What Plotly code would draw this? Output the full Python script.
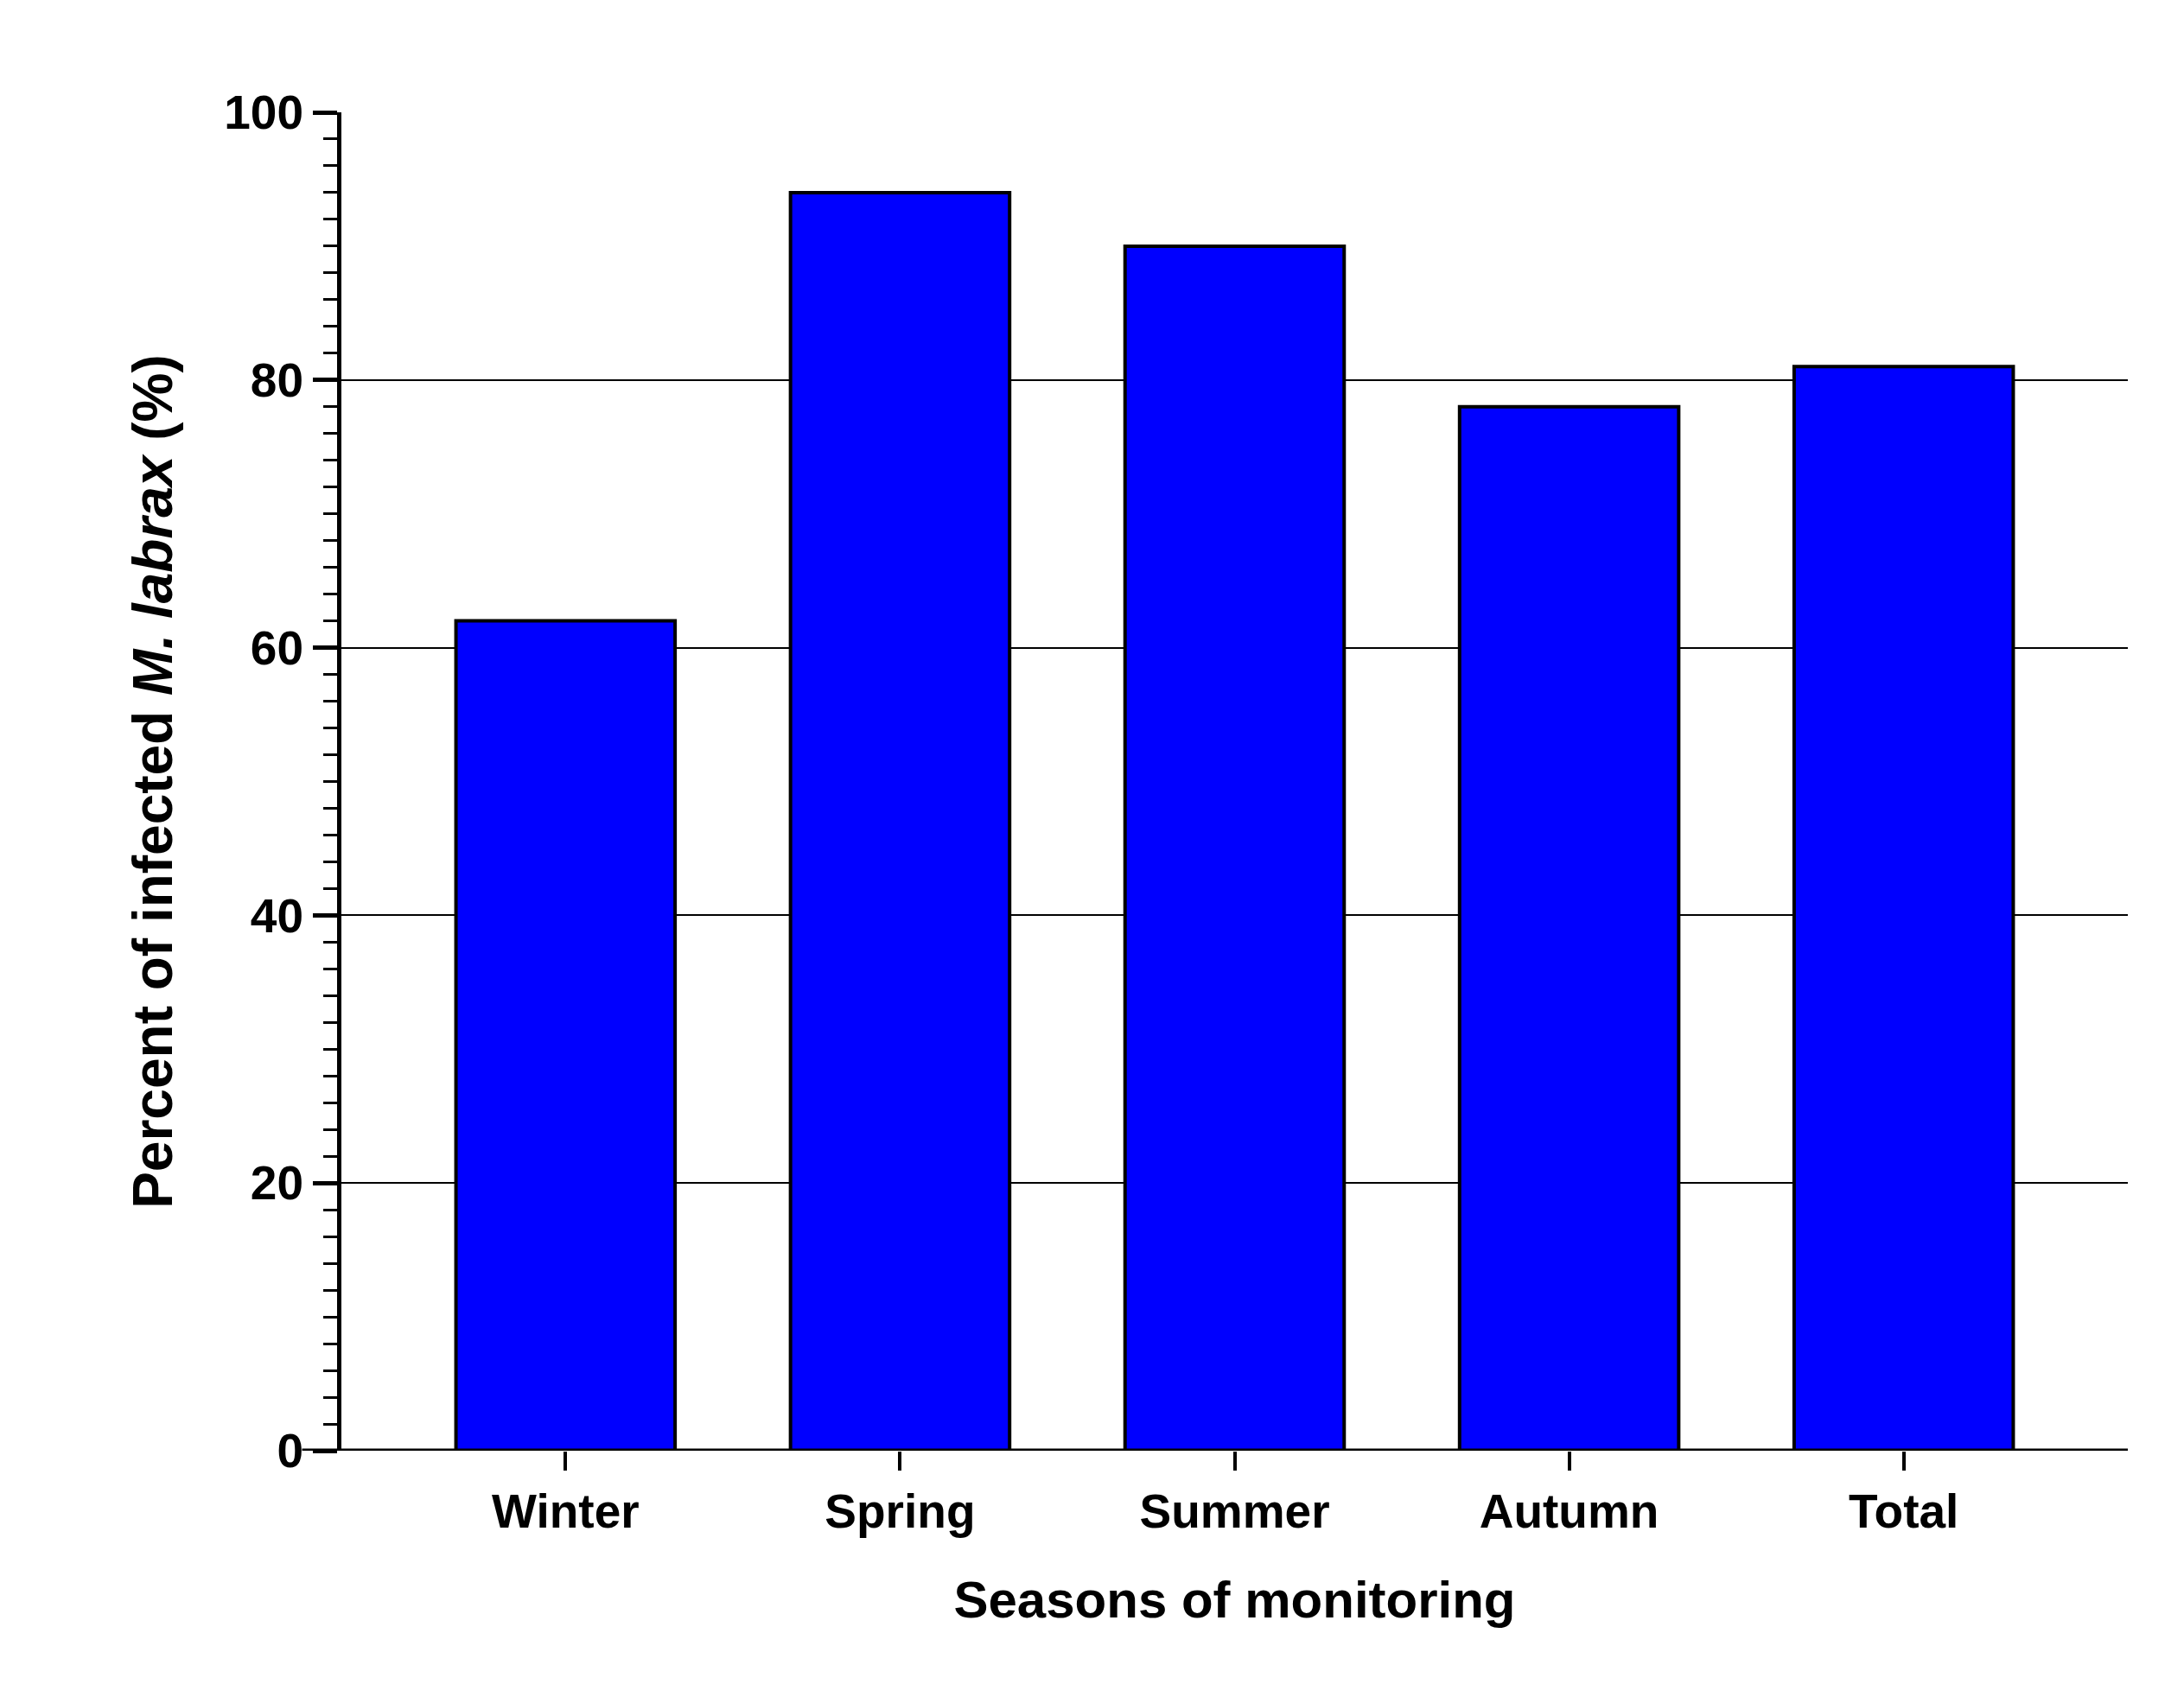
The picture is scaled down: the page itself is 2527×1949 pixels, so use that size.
import plotly.graph_objects as go

categories = ["Winter", "Spring", "Summer", "Autumn", "Total"]
values = [62, 94, 90, 78, 81]
y_ticks = [0, 20, 40, 60, 80, 100]

W, H = 2527, 1949
fnt = dict(family="Liberation Sans, Arial", size=55, color="black", weight="bold")

fig = go.Figure(go.Bar(
    x=list(range(len(categories))), y=values, width=0.655,
    marker=dict(color="#0000FF", line=dict(color="black", width=4)),
))
fig.update_layout(
    width=W, height=H, plot_bgcolor="white", paper_bgcolor="white",
    margin=dict(l=387, r=73, t=122, b=278), showlegend=False,
    font=fnt,
)
fig.update_xaxes(
    range=[-0.67, 4.67], tickvals=list(range(len(categories))), ticktext=categories,
    ticks="outside", ticklen=22, tickwidth=4, tickcolor="black",
    showline=False, showgrid=False, zeroline=False, tickfont=fnt,
    title=dict(text="Seasons of monitoring", font=dict(**{**fnt, "size": 60}), standoff=50),
)
fig.update_yaxes(
    range=[0, 100], tickvals=y_ticks, showline=True, linecolor="black", linewidth=5,
    ticks="outside", ticklen=28, tickwidth=5, tickcolor="black",
    minor=dict(dtick=2, ticks="outside", ticklen=16, tickwidth=3, tickcolor="black"),
    showgrid=True, gridcolor="black", gridwidth=2, zeroline=False, tickfont=fnt,
    title=dict(text="Percent of infected <i>M. labrax</i> (%)", font=dict(**{**fnt, "size": 64}), standoff=40),
)
fig.add_shape(type="line", xref="paper", yref="y", x0=-0.022, x1=1, y0=0, y1=0,
              line=dict(color="black", width=5))
fig.write_html("out.html")
